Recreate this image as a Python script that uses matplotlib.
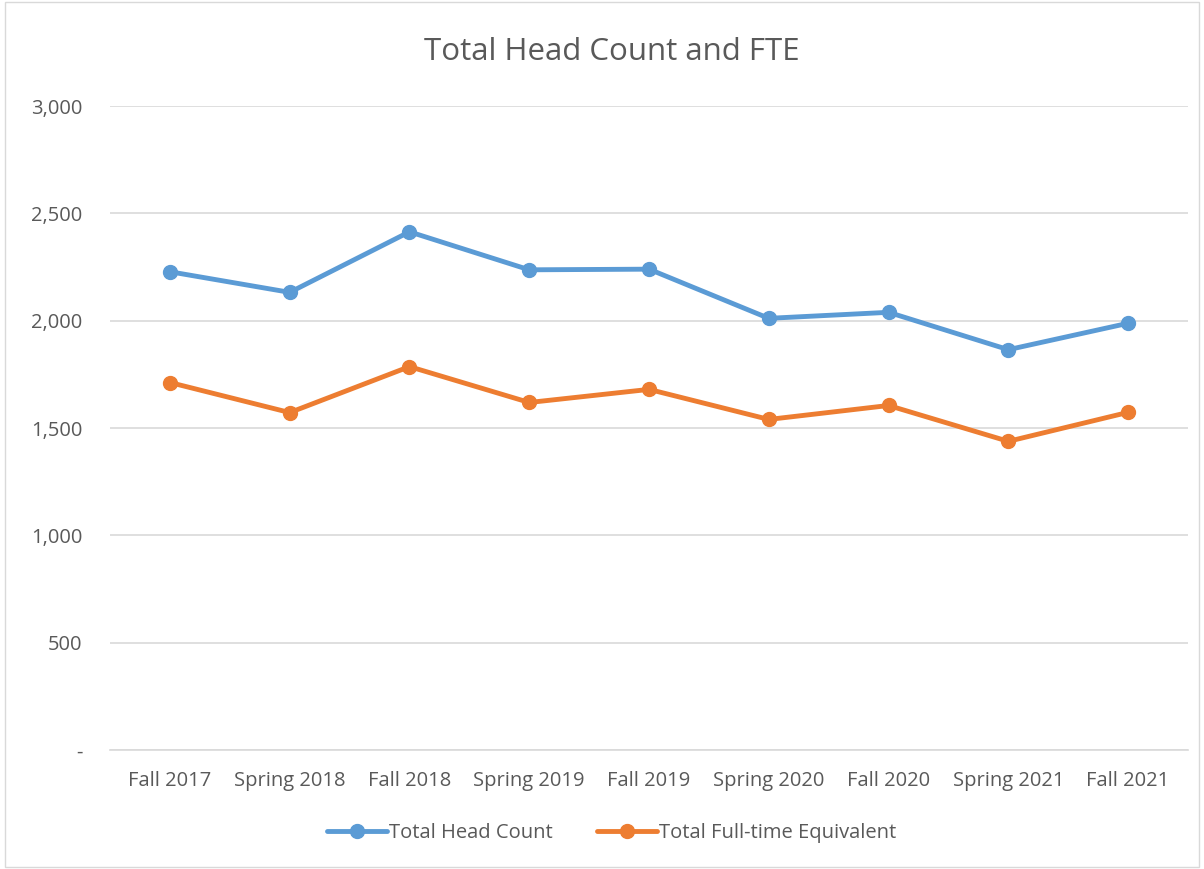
import matplotlib.pyplot as plt
from matplotlib.patches import Rectangle
from matplotlib.ticker import FuncFormatter

terms = ["Fall 2017", "Spring 2018", "Fall 2018", "Spring 2019", "Fall 2019",
         "Spring 2020", "Fall 2020", "Spring 2021", "Fall 2021"]
head_count = [2228, 2132, 2414, 2237, 2240, 2011, 2039, 1865, 1988]
fte = [1712, 1572, 1786, 1619, 1680, 1540, 1605, 1438, 1573]

plt.rcParams["font.family"] = ["Open Sans", "DejaVu Sans"]
TXT = "#595959"

fig = plt.figure(figsize=(12.04, 8.69), dpi=100)
ax = fig.add_axes([0.0914, 0.1369, 0.8953, 0.7411])

# chart area border
fig.patches.append(Rectangle((0.004, 0.002), 0.992, 0.996, transform=fig.transFigure,
                             fill=False, edgecolor="#D9D9D9", lw=1))

x = range(len(terms))
ax.plot(x, head_count, color="#5B9BD5", lw=3.5, marker="o", ms=10,
        label="Total Head Count", solid_capstyle="round")
ax.plot(x, fte, color="#ED7D31", lw=3.5, marker="o", ms=10,
        label="Total Full-time Equivalent", solid_capstyle="round")

ax.set_xlim(-0.5, len(terms) - 0.5)
ax.set_ylim(0, 3000)
ax.set_yticks(range(0, 3001, 500))
ax.yaxis.set_major_formatter(FuncFormatter(lambda v, p: "-" if v == 0 else f"{v:,.0f}"))
ax.set_xticks(list(x))
ax.set_xticklabels(terms)
ax.grid(axis="y", color="#D9D9D9", lw=1.2)
ax.set_axisbelow(True)
for s in ["top", "right", "left"]:
    ax.spines[s].set_visible(False)
ax.spines["bottom"].set_color("#D9D9D9")
ax.spines["bottom"].set_linewidth(1.2)
ax.tick_params(length=0, labelsize=14.5, labelcolor=TXT)
ax.tick_params(axis="x", pad=15)
ax.tick_params(axis="y", pad=20)

fig.text(0.508, 0.94, "Total Head Count and FTE", ha="center", va="center",
         fontsize=22.5, color=TXT)

fig.legend(loc="center", bbox_to_anchor=(0.508, 0.041), ncol=2, frameon=False,
           fontsize=14.5, labelcolor=TXT, handlelength=3.0, handletextpad=0.1,
           columnspacing=2.2)

fig.savefig("out.png", dpi=100, facecolor="white")
